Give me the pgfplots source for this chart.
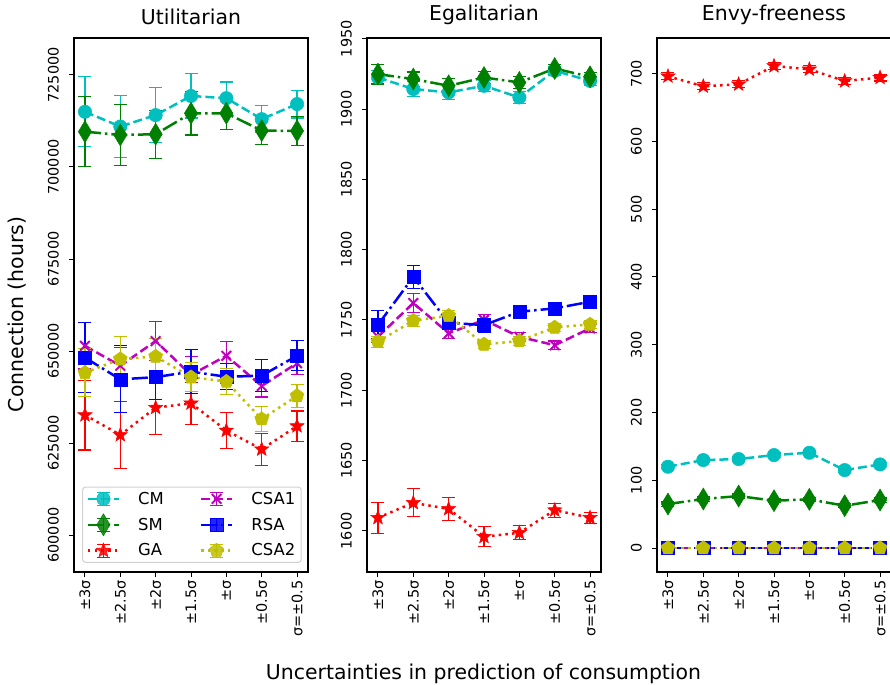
\documentclass[border=0pt]{standalone}
\usepackage{fontspec}
\setmainfont{DejaVu Sans}
\usepackage{pgfplots}
\pgfplotsset{compat=1.18}

\definecolor{cC}{rgb}{0,0.75,0.75}
\definecolor{cS}{rgb}{0,0.5,0}
\definecolor{cG}{rgb}{1,0,0}
\definecolor{cA}{rgb}{0.75,0,0.75}
\definecolor{cR}{rgb}{0,0,1}
\definecolor{cY}{rgb}{0.75,0.75,0}

\newcommand{\tickfont}{\fontsize{14.5}{17}\selectfont}
\newcommand{\legfont}{\fontsize{16.5}{19}\selectfont}
\newcommand{\labfont}{\fontsize{20.5}{24}\selectfont}

\pgfdeclareplotmark{fstar}{%
  \pgfpathmoveto{\pgfpointpolar{90}{\pgfplotmarksize}}%
  \pgfpathlineto{\pgfpointpolar{126}{0.42\pgfplotmarksize}}%
  \pgfpathlineto{\pgfpointpolar{162}{\pgfplotmarksize}}%
  \pgfpathlineto{\pgfpointpolar{198}{0.42\pgfplotmarksize}}%
  \pgfpathlineto{\pgfpointpolar{234}{\pgfplotmarksize}}%
  \pgfpathlineto{\pgfpointpolar{270}{0.42\pgfplotmarksize}}%
  \pgfpathlineto{\pgfpointpolar{306}{\pgfplotmarksize}}%
  \pgfpathlineto{\pgfpointpolar{342}{0.42\pgfplotmarksize}}%
  \pgfpathlineto{\pgfpointpolar{18}{\pgfplotmarksize}}%
  \pgfpathlineto{\pgfpointpolar{54}{0.42\pgfplotmarksize}}%
  \pgfpathclose
  \pgfusepathqfillstroke
}

\pgfplotsset{
  base/.style={
    scale only axis, width=234bp, height=534bp,
    anchor=north west,
    xmin=-0.31, xmax=6.31,
    xtick={0,1,2,3,4,5,6},
    xticklabels={±3σ,±2.5σ,±2σ,±1.5σ,±σ,±0.5σ,σ=±0.5},
    xticklabel style={rotate=90, anchor=east, font=\tickfont},
    yticklabel style={font=\tickfont, rotate=90, anchor=south, inner ysep=10bp},
    tick align=outside, xtick pos=left, ytick pos=left,
    major tick length=5bp,
    tick style={black, line width=1bp},
    axis line style={line width=1.2bp},
    clip=false,
    title style={font=\labfont, at={(0.5,1)}, anchor=south, yshift=4bp},
    /pgf/number format/fixed,
    /pgf/number format/precision=0,
    /pgf/number format/assume math mode=true,
    /pgf/number format/1000 sep={},
    scaled y ticks=false,
    legend cell align=left,
  },
  eb/.style={error bars/.cd, y dir=both, y explicit,
    error bar style={line width=1.1bp, solid},
    error mark options={solid, rotate=90, line width=1.1bp, mark size=6.5bp}},
  sCM/.style={cC, line width=2.5bp, dash pattern=on 9bp off 4bp, mark=*, mark size=6.7bp,
    mark options={solid, fill=cC, draw=cC, line width=0.5bp}, eb},
  sSM/.style={cS, line width=2.5bp, dash pattern=on 16bp off 4bp on 2.5bp off 4bp, mark=diamond*, mark size=11bp,
    mark options={solid, fill=cS, draw=cS, line width=0.5bp, xscale=0.8}, eb},
  sGA/.style={cG, line width=2.5bp, dash pattern=on 2.5bp off 4.2bp, mark=fstar, mark size=7.5bp,
    mark options={solid, fill=cG, draw=cG, line width=0.5bp}, eb},
  sA1/.style={cA, line width=2.5bp, dash pattern=on 9bp off 4bp, mark=x, mark size=6.8bp,
    mark options={solid, draw=cA, line width=2bp}, eb},
  sRSA/.style={cR, line width=2.5bp, dash pattern=on 16bp off 4bp on 2.5bp off 4bp, mark=square*, mark size=6.5bp,
    mark options={solid, fill=cR, draw=cR, line width=0.5bp}, eb},
  sA2/.style={cY, line width=2.5bp, dash pattern=on 2.5bp off 4.2bp, mark=pentagon*, mark size=7.3bp,
    mark options={solid, fill=cY, draw=cY, line width=0.5bp}, eb},
}

\begin{document}
\begin{tikzpicture}
% ---------------- Utilitarian ----------------
\begin{axis}[base, at={(74bp,-38bp)}, title={Utilitarian},
  ymin=589950, ymax=735050,
  ytick={600000,625000,650000,675000,700000,725000},
  legend style={at={(0.035,0.017)}, anchor=south west, draw=black!18, rounded corners=3bp,
    fill=white, fill opacity=0.85, text opacity=1, font=\legfont, line width=1bp,
    inner xsep=4bp, inner ysep=3bp, row sep=6bp,
    /tikz/every odd column/.append style={column sep=16bp},
    /tikz/every even column/.append style={column sep=34bp}},
  legend columns=3, transpose legend,
  legend image code/.code={%
    \draw[solid, line width=1.1bp] (15.5bp,-6.5bp) -- (15.5bp,6.5bp) (9bp,6.5bp) -- (22bp,6.5bp) (9bp,-6.5bp) -- (22bp,-6.5bp);
    \draw[mark repeat=2, mark phase=2] plot coordinates {(0bp,0bp) (15.5bp,0bp) (31bp,0bp)};},
]
\addplot[sCM] table[x=x, y=y, y error=e] {
x y e
0 715000 9500
1 711000 8500
2 714100 7400
3 719300 6000
4 718700 4400
5 713000 3700
6 717100 3800
};
\addplot[sSM] table[x=x, y=y, y error=e] {
x y e
0 709600 9500
1 708700 8300
2 708900 6500
3 714600 5900
4 714600 4300
5 709900 3900
6 709800 4000
};
\addplot[sGA] table[x=x, y=y, y error=e] {
x y e
0 632600 9500
1 627200 9100
2 634600 7200
3 635800 5700
4 628400 4900
5 623300 4300
6 629600 4100
};
\addplot[sA1] table[x=x, y=y, y error=e] {
x y e
0 651400 6300
1 646000 5000
2 652700 5300
3 643500 5000
4 648700 3900
5 640500 3000
6 646700 3000
};
\addplot[sRSA] table[x=x, y=y, y error=e] {
x y e
0 648200 9500
1 642300 9100
2 642900 6000
3 644400 6000
4 643000 3500
5 643300 4300
6 648700 4100
};
\addplot[sA2] table[x=x, y=y, y error=e] {
x y e
0 644100 6500
1 647800 6200
2 648500 5000
3 642900 4000
4 641700 3500
5 631500 3300
6 637800 3200
};
\legend{CM,SM,GA,CSA1,RSA,CSA2}
\end{axis}
% ---------------- Egalitarian ----------------
\begin{axis}[base, at={(367bp,-38bp)}, title={Egalitarian},
  ymin=1570.7, ymax=1950.5,
  ytick={1600,1650,1700,1750,1800,1850,1900,1950},
]
\addplot[sCM] table[x=x, y=y, y error=e] {
x y e
0 1922.4 5
1 1914.2 5.5
2 1911.8 5
3 1916.5 4
4 1908.2 4
5 1927.2 3
6 1920.0 3
};
\addplot[sSM] table[x=x, y=y, y error=e] {
x y e
0 1924.8 7
1 1921.3 5
2 1916.5 5
3 1922.4 4
4 1918.9 4
5 1928.8 3
6 1922.9 3
};
\addplot[sGA] table[x=x, y=y, y error=e] {
x y e
0 1609.3 11
1 1619.9 10
2 1615.6 8
3 1595.8 7
4 1598.6 5
5 1614.7 5
6 1609.3 4
};
\addplot[sA1] table[x=x, y=y, y error=e] {
x y e
0 1738.0 4
1 1762.0 7
2 1740.5 4
3 1750.0 4
4 1738.0 3
5 1732.0 3
6 1744.0 3
};
\addplot[sRSA] table[x=x, y=y, y error=e] {
x y e
0 1746.5 10
1 1780.6 8
2 1748.0 5
3 1746.3 5
4 1755.8 3
5 1758.2 3
6 1762.9 3
};
\addplot[sA2] table[x=x, y=y, y error=e] {
x y e
0 1734.5 4
1 1749.4 4
2 1753.0 4
3 1732.6 3
4 1735.0 3
5 1744.7 3
6 1746.8 3
};
\end{axis}
% ---------------- Envy-freeness ----------------
\begin{axis}[base, at={(657bp,-38bp)}, title={Envy-freeness},
  ymin=-35.4, ymax=752.7,
  ytick={0,100,200,300,400,500,600,700},
]
\addplot[sCM] table[x=x, y=y, y error=e] {
x y e
0 120.0 3
1 129.8 3
2 131.3 3
3 137.2 3
4 140.6 3
5 115.0 3
6 123.4 3
};
\addplot[sSM] table[x=x, y=y, y error=e] {
x y e
0 64.9 3
1 72.3 3
2 76.7 3
3 69.8 3
4 71.8 3
5 62.4 3
6 70.8 3
};
\addplot[sGA] table[x=x, y=y, y error=e] {
x y e
0 696.2 5
1 681.4 5
2 684.4 5
3 711.4 5
4 706.5 5
5 689.2 5
6 694.2 5
};
\addplot[sA1] table[x=x, y=y, y error=e] {
x y e
0 0 0
1 0 0
2 0 0
3 0 0
4 0 0
5 0 0
6 0 0
};
\addplot[sRSA] table[x=x, y=y, y error=e] {
x y e
0 0 0
1 0 0
2 0 0
3 0 0
4 0 0
5 0 0
6 0 0
};
\addplot[sA2] table[x=x, y=y, y error=e] {
x y e
0 0 0
1 0 0
2 0 0
3 0 0
4 0 0
5 0 0
6 0 0
};
\end{axis}
\node[font=\labfont, anchor=base] at (483.5bp,-679bp) {Uncertainties in prediction of consumption};
\node[font=\labfont, rotate=90] at (17bp,-314.5bp) {Connection (hours)};
\pgfresetboundingbox
\path[use as bounding box] (0,0) rectangle (890bp,-685bp);
\end{tikzpicture}
\end{document}
